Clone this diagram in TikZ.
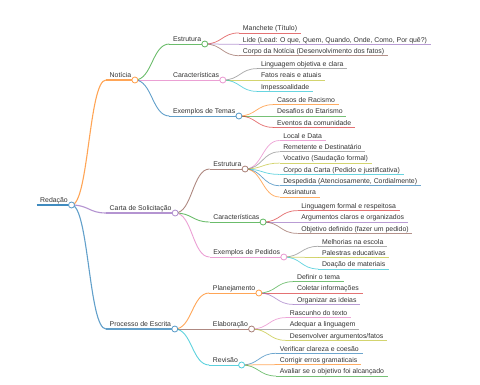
\documentclass[tikz,border=0pt]{standalone}
\usepackage{fontspec}
\setmainfont{Liberation Sans}
\usepackage{tikz}
\usetikzlibrary{calc}
\definecolor{Ink}{HTML}{333333}
\definecolor{mmBlue}{HTML}{1F77B4}
\definecolor{mmOrange}{HTML}{FF7F0E}
\definecolor{mmGreen}{HTML}{2CA02C}
\definecolor{mmRed}{HTML}{D62728}
\definecolor{mmPurple}{HTML}{9467BD}
\definecolor{mmBrown}{HTML}{8C564B}
\definecolor{mmPink}{HTML}{E377C2}
\definecolor{mmGray}{HTML}{7F7F7F}
\definecolor{mmOlive}{HTML}{BCBD22}
\definecolor{mmCyan}{HTML}{17BECF}

\tikzset{
  lbl/.style={anchor=south west,inner xsep=3.5pt,inner ysep=2pt,text depth=0pt,
              font=\fontsize{6.9}{8}\selectfont,text=Ink},
  w0/.style={line width=1.6pt,draw opacity=0.85},
  w1/.style={line width=1.1pt,draw opacity=0.7},
  w2/.style={line width=0.9pt,draw opacity=0.7},
  w3/.style={line width=0.75pt,draw opacity=0.65},
  knob/.style={circle,draw,fill=white,line width=0.8pt,inner sep=0pt,minimum size=6pt},
}
% horizontal link, control points at half way
\newcommand{\mmlink}[3]{%
  \draw[#1] (#2) .. controls ($(#2)!0.5!(#2-|#3)$) and ($(#3)!0.5!(#3-|#2)$) .. (#3);}

\begin{document}
\begin{tikzpicture}[x=1pt,y=-1pt]
  \useasboundingbox (0,0) rectangle (480,384);

  % root
  \node[lbl] (redacao) at (36.5,205) {Redação};
  \draw[w0,mmBlue] (redacao.south west) -- (redacao.south east);

  % first level
  \foreach \n/\y/\c/\t in {noticia/80/mmOrange/Notícia,
                           carta/213/mmPurple/{Carta de Solicitação},
                           processo/329/mmBlue/{Processo de Escrita}} {
    \node[lbl] (\n) at ($(redacao.south east |- 0,\y)+(34.5,0)$) {\t};
    \mmlink{w1,\c}{redacao.south east}{\n.south west}
    \draw[w1,\c] (\n.south west) -- (\n.south east);
  }

  % second level
  \foreach \p/\n/\y/\c/\t in {noticia/estrN/44/mmGreen/Estrutura,
                              noticia/caracN/80/mmPink/Características,
                              noticia/temas/116/mmBlue/{Exemplos de Temas},
                              carta/estrC/169/mmBrown/Estrutura,
                              carta/caracC/222/mmGreen/Características,
                              carta/pedidos/257/mmPink/{Exemplos de Pedidos},
                              processo/planej/293/mmOrange/Planejamento,
                              processo/elabor/329/mmBrown/Elaboração,
                              processo/revisao/365/mmCyan/Revisão} {
    \node[lbl] (\n) at ($(\p.south east |- 0,\y)+(34.5,0)$) {\t};
    \mmlink{w2,\c}{\p.south east}{\n.south west}
    \draw[w2,\c] (\n.south west) -- (\n.south east);
  }

  % leaves
  \foreach \p/\n/\y/\c/\t in {
      estrN/manchete/32.9/mmRed/{Manchete (Título)},
      estrN/lide/44.3/mmPurple/{Lide (Lead: O que, Quem, Quando, Onde, Como, Por quê?)},
      estrN/corpoN/55.7/mmBrown/{Corpo da Notícia (Desenvolvimento dos fatos)},
      caracN/lingN/68.6/mmGray/{Linguagem objetiva e clara},
      caracN/fatos/80/mmOlive/{Fatos reais e atuais},
      caracN/impess/91.4/mmCyan/{Impessoalidade},
      temas/racismo/104.6/mmOrange/{Casos de Racismo},
      temas/etarismo/116/mmGreen/{Desafios do Etarismo},
      temas/eventos/127.4/mmRed/{Eventos da comunidade},
      estrC/local/140.5/mmPink/{Local e Data},
      estrC/remet/151.8/mmGray/{Remetente e Destinatário},
      estrC/vocat/163.1/mmOlive/{Vocativo (Saudação formal)},
      estrC/corpoC/174.4/mmCyan/{Corpo da Carta (Pedido e justificativa)},
      estrC/desped/185.7/mmBlue/{Despedida (Atenciosamente, Cordialmente)},
      estrC/assin/197/mmOrange/{Assinatura},
      caracC/lingC/210.6/mmRed/{Linguagem formal e respeitosa},
      caracC/argum/222/mmPurple/{Argumentos claros e organizados},
      caracC/objet/233.4/mmBrown/{Objetivo definido (fazer um pedido)},
      pedidos/escola/246.3/mmGray/{Melhorias na escola},
      pedidos/palestras/257.6/mmOlive/{Palestras educativas},
      pedidos/doacao/269/mmCyan/{Doação de materiais},
      planej/tema/281.6/mmGreen/{Definir o tema},
      planej/coletar/293/mmRed/{Coletar informações},
      planej/organizar/304.4/mmPurple/{Organizar as ideias},
      elabor/rascunho/317.6/mmPink/{Rascunho do texto},
      elabor/adequar/329/mmGray/{Adequar a linguagem},
      elabor/desenv/340.4/mmOlive/{Desenvolver argumentos/fatos},
      revisao/verificar/353.3/mmBlue/{Verificar clareza e coesão},
      revisao/corrigir/364.6/mmOrange/{Corrigir erros gramaticais},
      revisao/avaliar/376/mmGreen/{Avaliar se o objetivo foi alcançado}} {
    \node[lbl] (\n) at ($(\p.south east |- 0,\y)+(34.5,0)$) {\t};
    \mmlink{w3,\c}{\p.south east}{\n.south west}
    \draw[w3,\c] (\n.south west) -- (\n.south east);
  }

  % knobs on top
  \foreach \n/\c in {redacao/mmBlue,noticia/mmOrange,carta/mmPurple,processo/mmBlue,
                     estrN/mmGreen,caracN/mmPink,temas/mmBlue,estrC/mmBrown,caracC/mmGreen,
                     pedidos/mmPink,planej/mmOrange,elabor/mmBrown,revisao/mmCyan} {
    \node[knob,draw=\c!75] (\n-k) at (\n.south east) {};
  }
\end{tikzpicture}
\end{document}
